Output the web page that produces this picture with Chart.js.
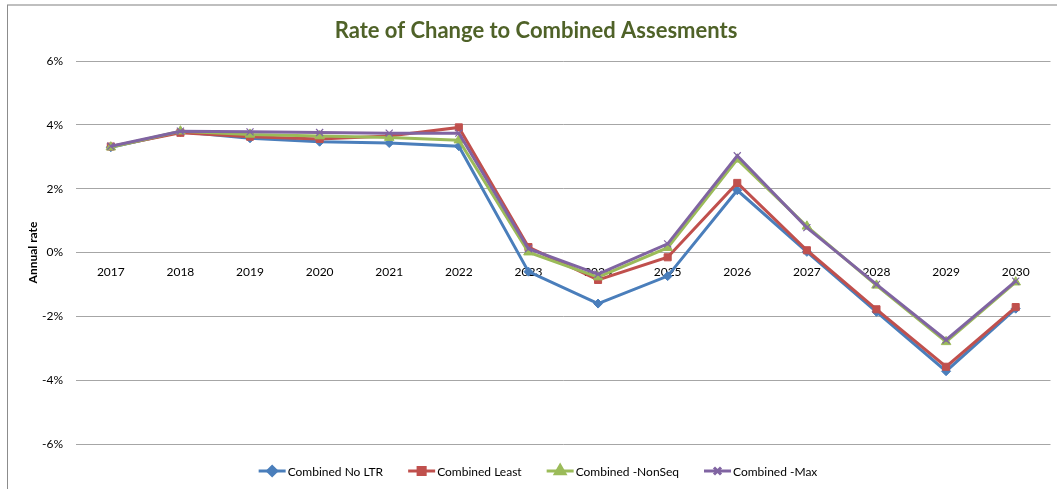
<!DOCTYPE html>
<html>
<head>
<meta charset="utf-8">
<script src="https://cdn.jsdelivr.net/npm/chart.js@4/dist/chart.umd.min.js"></script>
<style>
  html, body { margin: 0; padding: 0; background: #fff; }
  #wrap { position: relative; width: 1057px; height: 489px; }
</style>
</head>
<body>
<div id="wrap"><canvas id="rateChart" width="1057" height="489"></canvas></div>
<script>
var years = ['2017', '2018', '2019', '2020', '2021', '2022', '2023', '2024', '2025', '2026', '2027', '2028', '2029', '2030'];

var combinedNoLtr = [3.30, 3.78, 3.58, 3.47, 3.43, 3.33, -0.60, -1.60, -0.74, 1.95, 0.02, -1.86, -3.72, -1.76];
var combinedLeast = [3.32, 3.75, 3.63, 3.56, 3.65, 3.92, 0.17, -0.86, -0.15, 2.18, 0.07, -1.78, -3.58, -1.71];
var combinedNonSeq = [3.30, 3.80, 3.70, 3.65, 3.60, 3.52, 0.01, -0.77, 0.15, 2.92, 0.82, -1.03, -2.80, -0.93];
var combinedMax = [3.33, 3.80, 3.78, 3.76, 3.74, 3.74, 0.12, -0.68, 0.27, 3.03, 0.78, -1.00, -2.74, -0.90];

var yTicks = [-6, -4, -2, 0, 2, 4, 6];

var chartTitle = 'Rate of Change to Combined Assesments';

var FONT = 'Lato, "Open Sans", sans-serif';

function series(label, data, color, style, radius, order) {
    return {
        label: label,
        data: data,
        borderColor: color,
        backgroundColor: color,
        borderWidth: 3,
        pointStyle: style,
        pointRadius: radius,
        pointHoverRadius: radius,
        pointBorderWidth: style === 'crossRot' ? 1.2 : 1,
        tension: 0,
        order: order
    };
}

// frame + title like the spreadsheet object
var framePlugin = {
    id: 'frame',
    beforeDraw: function(chart) {
        var c = chart.ctx;
        c.save();
        c.fillStyle = '#fff';
        c.fillRect(0, 0, chart.width, chart.height);
        c.strokeStyle = '#bfbfbf';
        c.lineWidth = 2;
        c.beginPath();
        c.moveTo(7, 5);
        c.lineTo(chart.width, 5);
        c.stroke();
        c.strokeStyle = '#8c8c8c';
        c.lineWidth = 1;
        c.beginPath();
        c.moveTo(7.5, 5);
        c.lineTo(7.5, chart.height);
        c.stroke();

        c.font = 'bold 22px ' + FONT;
        c.fillStyle = '#4f6228';
        c.textAlign = 'center';
        c.textBaseline = 'middle';
        c.fillText(chartTitle, 536, 31);
        c.restore();
    }
};

// excel style legend: short line with the marker in the middle
var lineLegend = {
    id: 'lineLegend',
    afterDraw: function(chart) {
        var c = chart.ctx;
        var sets = chart.data.datasets;
        var lineLen = 27, gap = 25, y = 471;
        c.save();
        c.font = '12px ' + FONT;
        c.textBaseline = 'middle';
        var widths = sets.map(function(ds) { return lineLen + 2 + c.measureText(ds.label).width; });
        var total = widths.reduce(function(a, b) { return a + b; }, 0) + gap * (sets.length - 1);
        var x = 538 - total / 2;
        sets.forEach(function(ds, i) {
            c.strokeStyle = ds.borderColor;
            c.lineWidth = 3;
            c.beginPath();
            c.moveTo(x, y);
            c.lineTo(x + lineLen, y);
            c.stroke();
            c.fillStyle = ds.backgroundColor;
            c.strokeStyle = ds.borderColor;
            Chart.helpers.drawPoint(c, {
                pointStyle: ds.pointStyle,
                radius: ds.pointRadius,
                borderWidth: ds.pointBorderWidth,
                rotation: 0
            }, x + lineLen / 2, y);
            c.fillStyle = '#000';
            c.fillText(ds.label, x + lineLen + 2, y + 1);
            x += widths[i] + gap;
        });
        c.restore();
    }
};

var ctx = document.getElementById('rateChart').getContext('2d');
var rateChart = new Chart(ctx, {
    type: 'line',
    data: {
        labels: years,
        datasets: [
            series('Combined No LTR', combinedNoLtr, '#4a7ebb', 'rectRot', 4.5, 4),
            series('Combined Least', combinedLeast, '#c0504d', 'rect', 5, 3),
            series('Combined -NonSeq', combinedNonSeq, '#9bbb59', 'triangle', 5.5, 2),
            series('Combined -Max', combinedMax, '#8064a2', 'crossRot', 5, 1)
        ]
    },
    options: {
        responsive: false,
        animation: false,
        layout: {
            padding: { left: 0, right: 4, top: 61, bottom: 45 }
        },
        plugins: {
            legend: { display: false },
            tooltip: { enabled: false },
            title: { display: false }
        },
        scales: {
            x: {
                position: { y: 0 },
                offset: true,
                grid: { display: false, drawTicks: false, offset: true },
                border: { display: false },
                ticks: {
                    color: '#000',
                    font: { family: FONT, size: 12 },
                    padding: 12,
                    maxRotation: 0,
                    autoSkip: false
                }
            },
            y: {
                min: yTicks[0],
                max: yTicks[yTicks.length - 1],
                afterFit: function(scale) { scale.width = 76; },
                afterBuildTicks: function(scale) {
                    scale.ticks = yTicks.map(function(v) { return { value: v }; });
                },
                grid: { color: '#a6a6a6', lineWidth: 1, drawTicks: false },
                border: { display: false },
                ticks: {
                    color: '#000',
                    font: { family: FONT, size: 12 },
                    padding: 13,
                    callback: function(v) { return v + '%'; }
                },
                title: {
                    display: true,
                    text: 'Annual rate',
                    color: '#000',
                    font: { family: FONT, size: 12, weight: 'bold' },
                    padding: { top: 26, bottom: 0 }
                }
            }
        }
    },
    plugins: [framePlugin, lineLegend]
});
</script>
</body>
</html>
